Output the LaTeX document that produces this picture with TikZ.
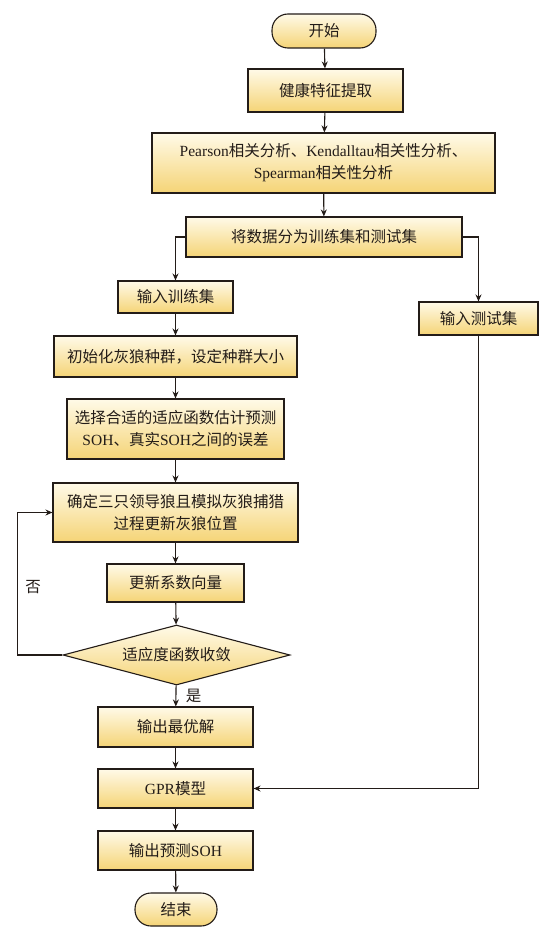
\documentclass[tikz,border=0pt]{standalone}
\usepackage{fontspec}
\usepackage{tikz}
\setmainfont{Liberation Serif}
\newfontfamily\cjk{Noto Sans CJK SC}
\usetikzlibrary{shapes.geometric,arrows.meta}
\definecolor{boxtop}{RGB}{255,250,232}
\definecolor{boxbot}{RGB}{245,212,118}
\definecolor{edgecol}{RGB}{35,28,24}
\newcommand{\en}[1]{{\rmfamily #1}}

\begin{document}
\begin{tikzpicture}[x=1pt, y=-1pt,
  box/.style={draw=edgecol, line width=1.1pt, top color=boxtop, bottom color=boxbot,
              inner sep=0pt, align=center, text=edgecol,
              font=\fontsize{15.5}{22}\selectfont\cjk},
  term/.style={box, rounded corners=16pt},
  dec/.style={box, diamond, aspect=3.8},
  arr/.style={-{Stealth[length=7pt, width=6pt]}, line width=1.1pt, draw=edgecol},
  lbl/.style={text=edgecol, font=\fontsize{15.5}{18}\selectfont\cjk}
]
  \useasboundingbox (0,0) rectangle (558,934);

  \node[term, minimum width=104pt, minimum height=34pt] (start) at (324,31)    {开始};
  \node[box,  minimum width=155pt, minimum height=43pt] (feat)  at (325.5,90.5) {健康特征提取};
  \node[box,  minimum width=343pt, minimum height=60pt] (corr)  at (323.5,163) {\en{Pearson}相关分析、\en{Kendalltau}相关性分析、\\\en{Spearman}相关性分析};
  \node[box,  minimum width=276pt, minimum height=40pt] (split) at (324,237)    {将数据分为训练集和测试集};
  \node[box,  minimum width=115pt, minimum height=32pt] (train) at (175.5,297)  {输入训练集};
  \node[box,  minimum width=119pt, minimum height=33pt] (test)  at (478.5,318.5) {输入测试集};
  \node[box,  minimum width=243pt, minimum height=41pt] (init)  at (175.5,356.5) {初始化灰狼种群，设定种群大小};
  \node[box,  minimum width=217pt, minimum height=60pt] (fit)   at (175.5,429)  {选择合适的适应函数估计预测\\\en{SOH}、真实\en{SOH}之间的误差};
  \node[box,  minimum width=245pt, minimum height=59pt] (upd)   at (175.5,512.5) {确定三只领导狼且模拟灰狼捕猎\\过程更新灰狼位置};
  \node[box,  minimum width=137pt, minimum height=38pt] (coef)  at (175.5,583)  {更新系数向量};
  \node[dec,  minimum width=227pt, minimum height=60pt] (conv)  at (176.5,655)  {适应度函数收敛};
  \node[box,  minimum width=155pt, minimum height=40pt] (best)  at (175.5,727)  {输出最优解};
  \node[box,  minimum width=155pt, minimum height=39pt] (gpr)   at (175.5,788.5) {\en{GPR}模型};
  \node[box,  minimum width=155pt, minimum height=39pt] (pred)  at (175.5,850.5) {输出预测\en{SOH}};
  \node[term, minimum width=82pt,  minimum height=33pt] (stop)  at (176,909.5)  {结束};

  \draw[arr] (start) -- (feat);
  \draw[arr] (feat) -- (corr);
  \draw[arr] (corr) -- (split);
  \draw[arr] (split.west) -| (train);
  \draw[arr] (split.east) -| (test);
  \draw[arr] (train) -- (init);
  \draw[arr] (init) -- (fit);
  \draw[arr] (fit) -- (upd);
  \draw[arr] (upd) -- (coef);
  \draw[arr] (coef) -- (conv);
  \draw[arr] (conv) -- node[lbl, right=6pt] {是} (best);
  \draw[arr] (conv.west) -- ++(-45,0) |- node[lbl, pos=0.24, right=4pt] {否} (upd.west);
  \draw[arr] (best) -- (gpr);
  \draw[arr] (test) |- (gpr);
  \draw[arr] (gpr) -- (pred);
  \draw[arr] (pred) -- (stop);
\end{tikzpicture}
\end{document}
